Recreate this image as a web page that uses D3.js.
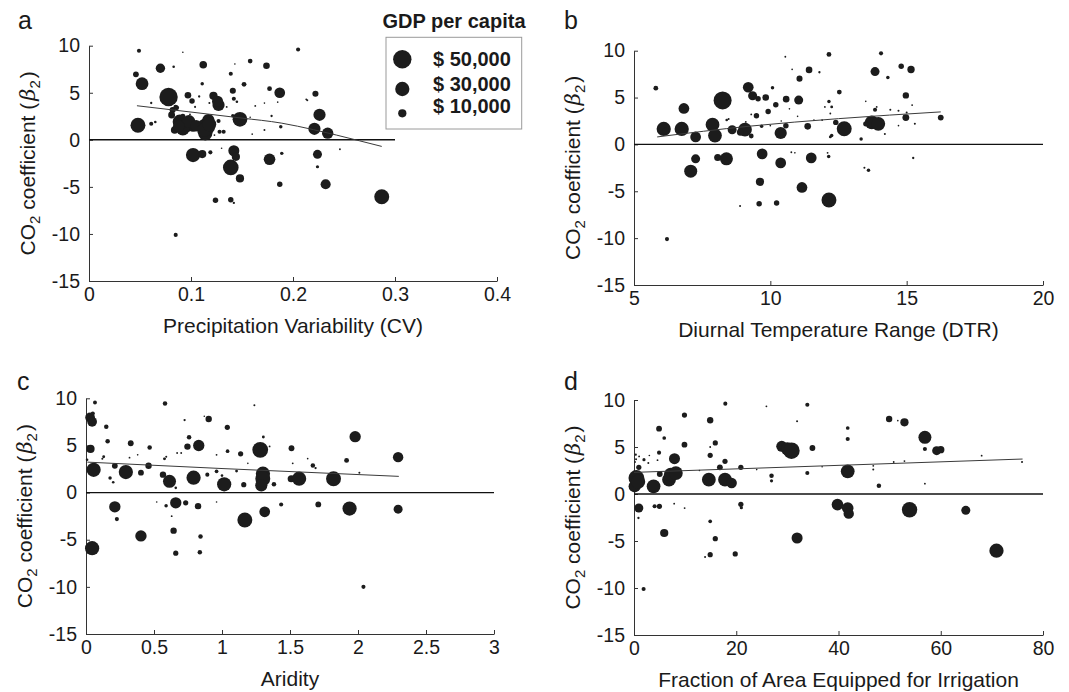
<!DOCTYPE html>
<html>
<head>
<meta charset="utf-8">
<script src="https://cdn.jsdelivr.net/npm/d3@7"></script>
<style>
  body { margin: 0; background: #fff; }
  svg text { font-family: "Liberation Sans", Arial, sans-serif; fill: #1a1a1a; }
</style>
</head>
<body>
<svg id="chart" width="1069" height="692"></svg>
<script>
// ---- data: [x, beta2, GDP per capita in thousands $] ----
var pointsCV = [
  [0.049,9.47,2.5],[0.092,9.3,0.4],[0.205,9.6,2.5],[0.070,7.6,13],[0.083,7.77,1.0],
  [0.112,7.98,8.5],[0.158,8.37,3.3],[0.174,7.87,6.5],[0.046,6.96,5],[0.052,5.96,24],
  [0.078,4.55,50],[0.061,3.91,0.8],[0.097,4.73,6.5],[0.101,4.12,4.4],[0.111,5.96,1.8],
  [0.122,4.68,10],[0.127,3.7,22],[0.141,5.22,5.5],[0.142,4.37,2.5],[0.152,5.9,3.4],
  [0.139,7.02,2.5],[0.143,8.06,0.4],[0.177,5.43,3.4],[0.187,5.0,17],[0.222,4.9,5.5],
  [0.214,4.2,0.6],[0.048,1.54,33],[0.061,1.71,2.5],[0.089,1.92,30],[0.096,1.57,30],
  [0.102,1.4,16],[0.084,1.04,8.5],[0.082,3.17,5.5],[0.086,3.4,3.4],[0.081,2.63,7],
  [0.092,2.5,4],[0.115,1.4,45],[0.114,0.69,30],[0.117,2.1,22],[0.132,0.86,2.5],
  [0.128,0.86,2.5],[0.127,2.0,2.5],[0.148,2.18,32],[0.141,2.56,1.8],[0.172,1.04,0.6],
  [0.188,1.4,1.8],[0.226,2.66,22],[0.221,1.17,22],[0.234,0.71,19],[0.102,-1.62,30],
  [0.111,-1.51,10],[0.119,-1.33,2.5],[0.142,-1.16,18],[0.144,-1.8,10],[0.139,-2.93,36],
  [0.148,-4.1,10],[0.177,-2.07,20],[0.189,-1.44,1.8],[0.187,-4.73,4.4],[0.124,-6.43,4.4],
  [0.139,-6.36,4.4],[0.142,-6.7,0.8],[0.224,-1.54,12],[0.224,-2.86,1.5],[0.232,-4.72,15],
  [0.287,-6.05,33],[0.085,-10.1,2.5],[0.213,4.3,0.5],[0.246,-1.0,0.5],[0.179,2.53,0.8],
  [0.145,4.05,1.0],[0.163,3.6,0.5],[0.172,3.9,0.4],[0.158,2.4,0.4],[0.135,3.5,0.5],
  [0.118,3.9,0.6],[0.104,3.5,0.6],[0.099,2.7,0.5],[0.108,4.6,0.8],[0.122,2.0,0.5],
  [0.16,0.6,0.4],[0.065,1.9,1.0],[0.13,-0.9,0.4],[0.185,4.0,0.3],[0.081,2.84,2.5],
  [0.085,3.47,3.4],[0.123,0.5,0.5],[0.092,1.2,28],[0.098,1.95,24],[0.105,1.5,20],
  [0.088,1.45,20],[0.113,1.05,30],[0.118,1.65,28],[0.126,4.1,18]
];
var pointsDTR = [
  [5.8,6.0,3.4],[6.09,1.65,30],[6.75,1.65,30],[6.83,3.84,17],[7.26,0.8,17],
  [7.26,-1.54,12],[7.08,-2.86,25],[7.88,2.1,28],[7.97,0.94,28],[8.25,4.69,48],
  [8.07,-1.4,7.5],[8.39,-1.54,25],[8.6,1.57,12],[8.47,2.7,0.6],[9.07,1.57,28],
  [8.9,1.3,7],[9.3,0.9,3.4],[9.19,6.1,17],[9.35,5.19,12],[9.55,4.87,4.4],
  [9.49,3.06,4.4],[9.83,5.01,6.5],[9.92,3.52,4.4],[9.68,1.93,1.8],[10.08,6.04,1.8],
  [10.2,4.23,4.4],[10.58,4.83,6.5],[10.38,1.22,22],[10.57,2.0,4.4],[11.04,4.73,12],
  [11.07,7.02,5.5],[11.42,7.95,6.5],[11.37,1.93,6.5],[10.55,9.35,0.5],[12.15,9.6,3.4],
  [12.53,5.58,3.4],[12.15,4.58,1.8],[12.71,1.68,33],[12.25,0.94,1.8],[12.4,2.35,4.4],
  [13.84,7.77,12],[14.06,9.72,2.5],[14.31,7.13,1.8],[13.72,2.35,28],[13.96,2.2,28],
  [13.5,2.2,4],[13.84,3.7,2.5],[13.33,0.58,1.8],[13.6,-2.75,1.8],[13.45,-2.5,0.6],
  [9.7,-1.01,17],[10.38,-1.97,17],[11.5,-1.44,17],[9.62,-3.99,10],[11.16,-4.59,17],
  [12.15,-5.94,33],[9.59,-6.33,4.4],[10.23,-6.26,4.4],[8.89,-6.57,0.6],[12.14,-1.3,1.8],
  [12.1,-0.9,0.5],[10.77,-0.84,0.5],[14.8,8.35,4.4],[15.16,7.99,8],[14.97,5.23,6],
  [14.97,2.86,7],[16.25,2.86,5],[15.24,-1.45,0.8],[6.21,-10.1,2.5],[10.8,8.0,0.4],
  [11.8,7.7,0.8],[12.0,4.0,0.5],[13.5,4.6,0.4],[13.9,4.0,0.5],[14.4,3.7,0.6],
  [14.7,3.6,0.6],[15.0,3.4,0.6],[15.2,4.2,0.5],[15.3,2.2,0.6],[14.2,1.1,0.6],
  [14.7,2.0,0.4],[12.2,3.3,0.5],[11.6,2.6,0.4],[11.0,3.0,0.4],[10.7,3.8,0.4],
  [10.4,2.5,0.4],[9.3,3.2,0.5],[9.1,2.4,0.5],[8.4,2.6,1.0],[11.9,2.6,0.5],
  [10.0,2.0,0.4],[12.2,0.8,1.2],[10.9,-0.9,0.4],[6.16,1.45,6],[12.25,4.0,1.2]
];
var pointsArid = [
  [0.03,7.97,14],[0.045,7.51,14],[0.066,9.55,2.2],[0.05,8.39,2.5],[0.033,4.63,10],
  [0.056,2.42,30],[0.045,-5.9,30],[0.149,6.99,3],[0.159,5.44,3],[0.12,3.6,0.6],
  [0.13,3.8,1.2],[0.212,2.84,5],[0.177,1.54,1.8],[0.2,1.1,1.0],[0.212,-1.51,19],
  [0.227,-2.81,2.5],[0.293,2.18,30],[0.329,5.23,5],[0.404,2.11,5],[0.46,2.84,6],
  [0.468,4.78,3],[0.404,-4.6,19],[0.581,9.45,3],[0.566,1.9,6],[0.614,1.19,25],
  [0.58,3.6,0.6],[0.59,3.8,0.6],[0.66,-1.09,19],[0.644,-4.04,6],[0.66,-6.43,4],
  [0.589,-1.4,1.8],[0.733,-1.09,4],[0.746,4.88,6],[0.758,5.86,3],[0.725,7.69,0.8],
  [0.791,1.58,30],[0.829,4.99,19],[0.824,-1.44,6],[0.842,-4.67,3],[0.837,-6.32,3],
  [0.902,7.8,6],[0.892,1.9,2.5],[1.016,0.88,30],[1.039,6.92,4],[1.041,4.39,2],
  [0.96,2.25,2],[1.137,4.11,4],[1.107,2.28,1.2],[1.168,-2.91,33],[1.16,0.84,4],
  [1.281,4.53,37],[1.301,2.0,30],[1.3,1.47,33],[1.289,0.77,22],[1.314,-2.04,17],
  [1.382,0.88,3],[1.435,-1.26,2.5],[1.511,4.7,5],[1.509,1.47,7.5],[1.567,1.47,30],
  [1.304,5.9,1.2],[1.35,4.9,0.5],[1.238,9.27,0.6],[1.668,2.88,3],[1.688,2.6,0.8],
  [1.708,-1.26,5],[1.82,1.47,33],[1.916,3.41,3.5],[1.938,-1.69,30],[1.979,5.93,19],
  [2.01,2.1,0.6],[2.04,-10.0,2.5],[2.295,3.76,16],[2.295,-1.76,12],[0.008,3.48,1.0],
  [0.576,3.58,1.0],[0.67,4.2,0.5],[0.7,4.2,0.5],[0.32,3.7,0.5],[0.38,4.0,0.4],
  [0.87,8.1,0.4],[0.96,4.0,0.5],[1.19,3.1,0.4],[1.63,3.6,0.4],[1.52,3.1,0.5],
  [0.63,-2.5,0.5],[0.96,-1.0,0.4],[0.66,0.5,1.0],[0.52,-1.0,0.4],[1.0,1.8,1.0]
];
var pointsIrr = [
  [0.47,1.7,37],[0.13,0.82,22],[0.8,1.3,30],[0.94,2.84,4],[0.34,4.18,0.8],
  [0.4,3.7,0.6],[1.0,4.0,0.5],[0.2,3.4,0.5],[0.94,-1.49,12],[0.87,-2.55,0.8],
  [1.88,-10.1,2.5],[1.95,3.65,1.5],[2.8,3.3,0.6],[3.0,4.1,0.4],[3.83,0.82,28],
  [4.03,-1.31,2.5],[4.97,-1.31,4],[4.9,6.95,5],[4.9,4.4,2.5],[5.04,2.13,5],
  [4.6,3.6,0.5],[5.91,5.96,2],[5.91,-4.15,10],[6.85,1.52,28],[7.19,2.06,28],
  [8.19,2.23,28],[7.92,3.76,18],[7.86,-1.03,0.5],[9.87,8.4,4],[9.87,5.25,5],
  [9.9,-1.5,0.5],[12.8,2.5,0.4],[14.9,7.84,6],[14.9,4.11,4],[14.9,5.0,0.5],
  [14.64,1.52,28],[14.9,-2.91,2],[14.9,-6.45,4],[13.9,-6.7,0.6],[15.9,5.43,4],
  [15.9,-4.75,4],[16.8,2.84,5],[17.8,3.48,4],[17.86,9.61,2.5],[17.8,1.52,28],
  [19.1,1.17,16],[19.8,-6.38,4],[20.9,2.84,4],[20.9,-1.1,4],[21.0,-1.45,1.5],
  [24.0,2.6,0.4],[25.9,9.33,0.5],[26.9,1.95,3],[26.9,1.4,1.5],[28.9,5.07,18],
  [30.0,4.8,25],[30.8,4.61,40],[31.9,7.73,0.6],[31.9,-4.68,18],[33.9,9.5,2.5],
  [33.9,2.23,2.5],[34.9,4.89,5],[36.8,2.9,0.4],[39.8,-1.13,20],[41.8,-1.49,20],
  [42.0,-2.09,16],[41.8,2.41,28],[41.8,7.02,2],[41.8,5.85,2.5],[46.8,3.0,0.5],
  [46.8,2.6,0.6],[47.9,0.89,3],[49.9,7.98,6],[51.6,7.8,0.4],[52.9,7.62,10],
  [53.9,-1.67,35],[52.9,3.5,0.5],[50.8,3.4,0.5],[56.9,6.03,25],[56.9,4.79,2.5],
  [56.9,1.1,0.5],[59.2,4.61,12],[60.0,4.72,8],[64.9,-1.74,12],[68.0,4.08,0.5],
  [70.9,-6.03,30],[75.9,3.4,0.6]
];

// fitted lines
var trendCV = [[0.047,3.62],[0.1,2.95],[0.149,2.32],[0.189,1.77],[0.22,1.08],[0.265,-0.1],[0.287,-0.7]];
var trendDTR = [[5.85,0.8],[9.25,1.95],[12.5,2.75],[16.25,3.47]];
var trendArid = [[0.01,3.23],[1.0,2.55],[2.3,1.72]];
var trendIrr = [[0,2.3],[76,3.72]];

// axes ticks
var yTicks = [-15, -10, -5, 0, 5, 10];
var cvTicks = [0, 0.1, 0.2, 0.3, 0.4];
var dtrTicks = [5, 10, 15, 20];
var aridTicks = [0, 0.5, 1, 1.5, 2, 2.5, 3];
var irrTicks = [0, 20, 40, 60, 80];

// legend
var legendGdp = [50, 30, 10];
var legendLabels = ["$ 50,000", "$ 30,000", "$ 10,000"];

var svg = d3.select("#chart");
var rScale = d3.scaleSqrt().domain([0, 50]).range([0, 9.2]);
var ink = "#1c1c1c";

var panels = [
  { letter: "a", lx: 18, ly: 29, pts: pointsCV, trend: trendCV, dom: [0, 0.4], ticks: cvTicks, zeroTo: 0.3,
    title: "Precipitation Variability (CV)", x0: 89, x1: 497, y0: 281, y1: 45.7 },
  { letter: "b", lx: 564, ly: 29, pts: pointsDTR, trend: trendDTR, dom: [5, 20], ticks: dtrTicks, zeroTo: 20,
    title: "Diurnal Temperature Range (DTR)", x0: 634, x1: 1043, y0: 285, y1: 50.7 },
  { letter: "c", lx: 17, ly: 390, pts: pointsArid, trend: trendArid, dom: [0, 3], ticks: aridTicks, zeroTo: 3,
    title: "Aridity", x0: 86, x1: 494, y0: 634, y1: 398.3 },
  { letter: "d", lx: 564, ly: 390, pts: pointsIrr, trend: trendIrr, dom: [0, 80], ticks: irrTicks, zeroTo: 80,
    title: "Fraction of Area Equipped for Irrigation", x0: 634, x1: 1043, y0: 635, y1: 400 }
];

panels.forEach(function (p) {
  var x = d3.scaleLinear().domain(p.dom).range([p.x0, p.x1]);
  var y = d3.scaleLinear().domain([-15, 10]).range([p.y0, p.y1]);
  var g = svg.append("g");

  // axes (ticks point inward, MATLAB style)
  g.append("g")
    .attr("transform", "translate(" + p.x0 + ",0)")
    .attr("color", "#333")
    .call(d3.axisLeft(y).tickValues(yTicks).tickSizeInner(-4).tickSizeOuter(0).tickPadding(9).tickFormat(String))
    .call(function (a) { a.selectAll("text").attr("font-size", 19.5).attr("font-family", null).style("fill", "#1a1a1a"); });

  g.append("g")
    .attr("transform", "translate(0," + p.y0 + ")")
    .attr("color", "#333")
    .call(d3.axisBottom(x).tickValues(p.ticks).tickSizeInner(-4).tickSizeOuter(0).tickPadding(6).tickFormat(String))
    .call(function (a) { a.selectAll("text").attr("font-size", 19.5).attr("font-family", null).style("fill", "#1a1a1a"); });

  // zero reference line
  g.append("line")
    .attr("x1", x(p.dom[0])).attr("x2", x(p.zeroTo))
    .attr("y1", y(0)).attr("y2", y(0))
    .attr("stroke", "#111").attr("stroke-width", 1.4);

  // bubbles
  g.append("g").selectAll("circle")
    .data(p.pts)
    .enter().append("circle")
    .attr("cx", function (d) { return x(d[0]); })
    .attr("cy", function (d) { return y(d[1]); })
    .attr("r", function (d) { return Math.max(0.8, rScale(d[2])); })
    .attr("fill", ink);

  // fitted line
  g.append("path")
    .datum(p.trend)
    .attr("fill", "none")
    .attr("stroke", "#3a3a3a")
    .attr("stroke-width", 1)
    .attr("d", d3.line().x(function (d) { return x(d[0]); }).y(function (d) { return y(d[1]); }).curve(d3.curveMonotoneX));

  // x title
  g.append("text")
    .attr("x", (p.x0 + p.x1) / 2).attr("y", p.y0 + 52)
    .attr("text-anchor", "middle").attr("font-size", 21)
    .text(p.title);

  // y title: CO2 coefficient (beta2)
  var yt = g.append("text")
    .attr("transform", "translate(" + (p.x0 - 54) + "," + ((p.y0 + p.y1) / 2) + ") rotate(-90)")
    .attr("text-anchor", "middle").attr("font-size", 21);
  yt.append("tspan").text("CO");
  yt.append("tspan").attr("font-size", 15).attr("dy", 5).text("2");
  yt.append("tspan").attr("dy", -5).text(" coefficient (");
  yt.append("tspan").attr("font-style", "italic").attr("font-family", "DejaVu Serif, serif").attr("dx", 2).text("\u03b2");
  yt.append("tspan").attr("font-size", 15).attr("dy", 5).text("2");
  yt.append("tspan").attr("dy", -5).attr("dx", 2).text(")");

  // panel letter
  g.append("text").attr("x", p.lx).attr("y", p.ly).attr("font-size", 25).text(p.letter);
});

// legend
var leg = svg.append("g");
leg.append("text").attr("x", 454).attr("y", 27.5).attr("text-anchor", "middle")
  .attr("font-size", 20).attr("font-weight", "bold").text("GDP per capita");
leg.append("rect").attr("x", 386).attr("y", 37.3).attr("width", 135.7).attr("height", 91.7)
  .attr("fill", "#fff").attr("stroke", "#9a9a9a").attr("stroke-width", 1);
var markerY = [59.3, 89, 113.3];
var labelY = [65.7, 90.5, 113.3];
legendGdp.forEach(function (gdp, i) {
  leg.append("circle").attr("cx", 402.3).attr("cy", markerY[i]).attr("r", rScale(gdp)).attr("fill", ink);
  leg.append("text").attr("x", 433).attr("y", labelY[i]).attr("font-size", 20)
    .attr("font-weight", "bold").text(legendLabels[i]);
});
</script>
</body>
</html>
